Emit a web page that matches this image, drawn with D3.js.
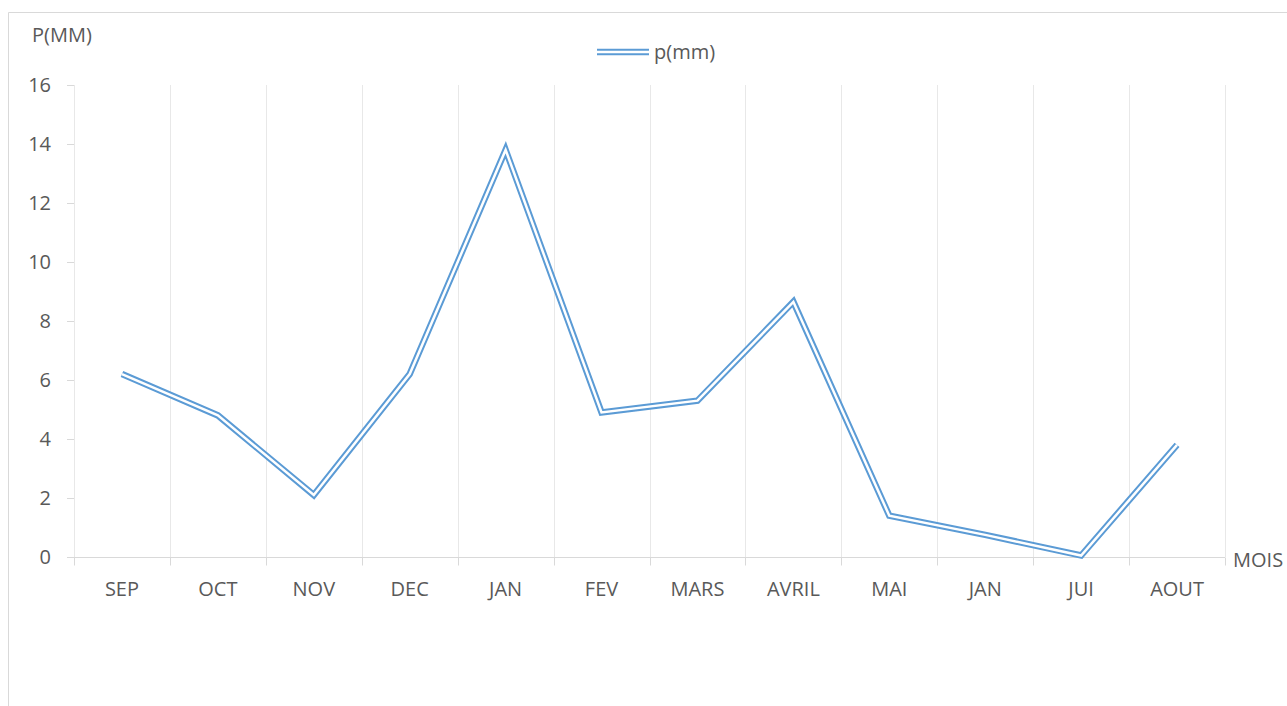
<!DOCTYPE html>
<html><head><meta charset="utf-8">
<script src="https://cdn.jsdelivr.net/npm/d3@7"></script>
<style>body{margin:0;background:#fff;}svg{display:block;}text{font-family:"Open Sans",sans-serif;fill:#595959;}</style>
</head><body><svg id="c" width="1287" height="706"></svg>
<script>
const categories = ["SEP","OCT","NOV","DEC","JAN","FEV","MARS","AVRIL","MAI","JAN","JUI","AOUT"];
const values = [6.2, 4.8, 2.1, 6.2, 13.8, 4.9, 5.3, 8.65, 1.4, 0.75, 0.05, 3.8];
const yTicks = [0,2,4,6,8,10,12,14,16];
const seriesName = "p(mm)";
const yTitle = "P(MM)";
const xTitle = "MOIS";

const svg = d3.select("#c");
const L = 74, R = 1225, T = 85, B = 557;
const color = "#5b9bd5";
const fs = 20;

svg.append("path").attr("d","M8.5,706 V12.5 H1287").attr("fill","none").attr("stroke","#d9d9d9").attr("stroke-width",1);

const x = d3.scaleBand().domain(d3.range(categories.length)).range([L,R]);
const y = d3.scaleLinear().domain([0,16]).range([B,T]);

const bounds = d3.range(categories.length+1).map(i => L + i*x.step());
svg.append("g").selectAll("line").data(bounds).join("line")
  .attr("x1",d=>Math.round(d)+0.5).attr("x2",d=>Math.round(d)+0.5)
  .attr("y1",T).attr("y2",B).attr("stroke","#e8e8e8").attr("stroke-width",1);

const xa = svg.append("g").attr("transform",`translate(0,${B+0.5})`);
xa.append("line").attr("x1",L).attr("x2",R).attr("stroke","#d9d9d9");
xa.selectAll(".tk").data(bounds).join("line").attr("class","tk")
  .attr("x1",d=>Math.round(d)+0.5).attr("x2",d=>Math.round(d)+0.5).attr("y1",0).attr("y2",8).attr("stroke","#d9d9d9");
xa.selectAll("text").data(categories).join("text")
  .attr("x",(d,i)=>x(i)+x.bandwidth()/2).attr("y",38).attr("text-anchor","middle")
  .attr("font-size",fs).text(d=>d);

const ya = svg.append("g");
ya.selectAll("line").data(yTicks).join("line")
  .attr("x1",L-7).attr("x2",L).attr("y1",d=>Math.round(y(d))+0.5).attr("y2",d=>Math.round(y(d))+0.5).attr("stroke","#d9d9d9");
ya.selectAll("text").data(yTicks).join("text")
  .attr("x",L-23).attr("y",d=>y(d)+7).attr("text-anchor","end").attr("font-size",fs).text(d=>d);

svg.append("text").attr("x",32).attr("y",42).attr("font-size",fs).text(yTitle);
svg.append("text").attr("x",1233).attr("y",567).attr("font-size",fs).text(xTitle);

const line = d3.line().x((d,i)=>x(i)+x.bandwidth()/2).y(d=>y(d));
svg.append("path").datum(values).attr("d",line).attr("fill","none").attr("stroke",color).attr("stroke-width",6.5).attr("stroke-linejoin","miter");
svg.append("path").datum(values).attr("d",line).attr("fill","none").attr("stroke","#fff").attr("stroke-width",2.5).attr("stroke-linejoin","miter");

const lg = svg.append("g").attr("transform","translate(597,52)");
lg.append("line").attr("x1",0).attr("x2",52).attr("stroke",color).attr("stroke-width",6.5);
lg.append("line").attr("x1",0).attr("x2",52).attr("stroke","#fff").attr("stroke-width",2.5);
lg.append("text").attr("x",57).attr("y",7).attr("font-size",fs).text(seriesName);
</script></body></html>
